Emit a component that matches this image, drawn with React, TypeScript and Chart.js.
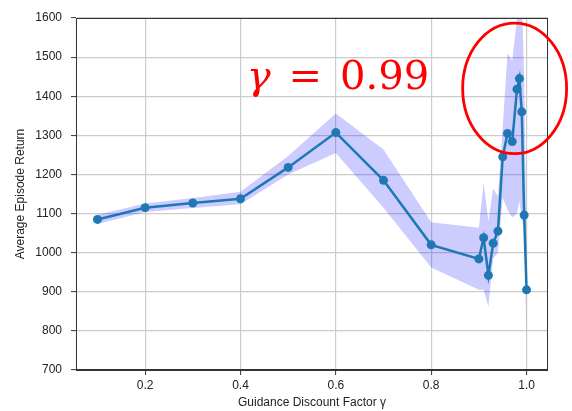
import React, { useEffect, useRef } from 'react';
import { Chart, registerables } from 'chart.js';

Chart.register(...registerables);

const gammas = [0.1, 0.2, 0.3, 0.4, 0.5, 0.6, 0.7, 0.8, 0.9, 0.91, 0.92, 0.93, 0.94, 0.95, 0.96, 0.97, 0.98, 0.985, 0.99, 0.995, 1.0];
const meanReturn = [1085, 1115, 1127, 1138, 1218, 1307, 1185, 1020, 984, 1038, 942, 1024, 1055, 1245, 1305, 1284, 1418, 1445, 1360, 1096, 905];
const upperReturn = [1097, 1126, 1140, 1156, 1247, 1356, 1264, 1078, 1064, 1180, 1080, 1164, 1144, 1320, 1510, 1490, 1600, 1650, 1650, 1450, 1000];
const lowerReturn = [1073, 1104, 1114, 1124, 1200, 1255, 1115, 962, 905, 905, 862, 985, 1000, 1140, 1110, 1090, 1100, 1130, 1090, 1050, 770];
const xTicks = [0.2, 0.4, 0.6, 0.8, 1.0];
const yTicks = [700, 800, 900, 1000, 1100, 1200, 1300, 1400, 1500, 1600];

const annotationParts = ['γ', '=', '0.99'];
const annotationPos = { x: 0.413, y: 1418 };
const ellipseCenter = { x: 0.975, y: 1420 };
const ellipseRadius = { x: 0.109, y: 167 };

const toPoints = (ys: number[]) => gammas.map((g, i) => ({ x: g, y: ys[i] }));

const framePlugin = {
  id: 'frame',
  afterDraw(chart: any) {
    const { ctx, chartArea } = chart;
    ctx.save();
    ctx.strokeStyle = '#333333';
    ctx.lineWidth = 1;
    ctx.strokeRect(chartArea.left + 0.5, chartArea.top + 0.5, chartArea.right - chartArea.left - 1, chartArea.bottom - chartArea.top - 1);
    ctx.restore();
  },
};

const annotationPlugin = {
  id: 'gammaAnnotation',
  afterDraw(chart: any) {
    const { ctx, scales } = chart;
    const xs = scales.x;
    const ys = scales.y;
    ctx.save();
    let x = xs.getPixelForValue(annotationPos.x);
    const baseY = ys.getPixelForValue(annotationPos.y);
    ctx.fillStyle = '#ff0000';
    ctx.textBaseline = 'alphabetic';
    ctx.textAlign = 'left';
    const fonts = ["italic 40px 'DejaVu Serif'", "40px 'DejaVu Serif'", "40px 'DejaVu Serif'"];
    const gap = 18;
    annotationParts.forEach((part, i) => {
      ctx.font = fonts[i];
      ctx.fillText(part, x, baseY);
      x += ctx.measureText(part).width + gap;
    });
    const ex = xs.getPixelForValue(ellipseCenter.x);
    const ey = ys.getPixelForValue(ellipseCenter.y);
    const rx = Math.abs(xs.getPixelForValue(ellipseCenter.x + ellipseRadius.x) - ex);
    const ry = Math.abs(ys.getPixelForValue(ellipseCenter.y + ellipseRadius.y) - ey);
    ctx.beginPath();
    ctx.ellipse(ex, ey, rx, ry, 0, 0, Math.PI * 2);
    ctx.strokeStyle = '#ff0000';
    ctx.lineWidth = 2.8;
    ctx.stroke();
    ctx.restore();
  },
};

export default function App() {
  const canvasRef = useRef<HTMLCanvasElement | null>(null);

  useEffect(() => {
    if (!canvasRef.current) return;
    const tickFont = { family: "'Liberation Sans', Arial, sans-serif", size: 12 };
    const chart = new Chart(canvasRef.current, {
      type: 'line',
      data: {
        datasets: [
          {
            label: 'upper',
            data: toPoints(upperReturn),
            borderWidth: 0,
            pointRadius: 0,
            backgroundColor: 'rgba(0,0,255,0.2)',
            borderColor: 'rgba(0,0,0,0)',
            fill: '+1',
            order: 2,
          },
          {
            label: 'lower',
            data: toPoints(lowerReturn),
            borderWidth: 0,
            pointRadius: 0,
            borderColor: 'rgba(0,0,0,0)',
            backgroundColor: 'rgba(0,0,255,0.2)',
            fill: false,
            order: 2,
          },
          {
            label: 'mean',
            data: toPoints(meanReturn),
            borderColor: '#1f77b4',
            backgroundColor: '#1f77b4',
            borderWidth: 2.5,
            pointRadius: 4.5,
            pointBackgroundColor: '#1f77b4',
            pointBorderWidth: 0,
            fill: false,
            order: 1,
          },
        ],
      },
      options: {
        animation: false,
        responsive: false,
        maintainAspectRatio: false,
        layout: { padding: { left: 0, right: 24, top: 18, bottom: 0 } },
        plugins: { legend: { display: false }, tooltip: { enabled: false } },
        scales: {
          x: {
            type: 'linear',
            min: 0.055,
            max: 1.045,
            afterBuildTicks: (scale: any) => {
              scale.ticks = xTicks.map((v) => ({ value: v }));
            },
            afterFit: (scale: any) => {
              scale.height = 41;
            },
            ticks: {
              font: tickFont,
              color: '#222',
              padding: 3,
              maxRotation: 0,
              callback: (v: any) => Number(v).toFixed(1),
            },
            grid: { color: '#cccccc', lineWidth: 1.2, tickLength: 5, tickColor: '#333', tickWidth: 1 },
            border: { display: true, color: '#333' },
            title: {
              display: true,
              text: 'Guidance Discount Factor γ',
              font: tickFont,
              color: '#222',
              padding: { top: 0, bottom: 1 },
            },
          },
          y: {
            type: 'linear',
            min: 700,
            max: 1600,
            afterBuildTicks: (scale: any) => {
              scale.ticks = yTicks.map((v) => ({ value: v }));
            },
            afterFit: (scale: any) => {
              scale.width = 76;
            },
            ticks: { font: tickFont, color: '#222', padding: 9, callback: (v: any) => String(v) },
            grid: { color: '#cccccc', lineWidth: 1.2, tickLength: 5, tickColor: '#333', tickWidth: 1 },
            border: { display: true, color: '#333' },
            title: {
              display: true,
              text: 'Average Episode Return',
              font: tickFont,
              color: '#222',
              padding: { top: 13, bottom: 0 },
            },
          },
        },
      },
      plugins: [framePlugin, annotationPlugin],
    });
    return () => chart.destroy();
  }, []);

  return (
    <div style={{ position: 'fixed', left: 0, top: 0, width: 572, height: 411, background: '#fff' }}>
      <canvas ref={canvasRef} width={572} height={411} style={{ width: 572, height: 411, display: 'block' }} />
    </div>
  );
}
